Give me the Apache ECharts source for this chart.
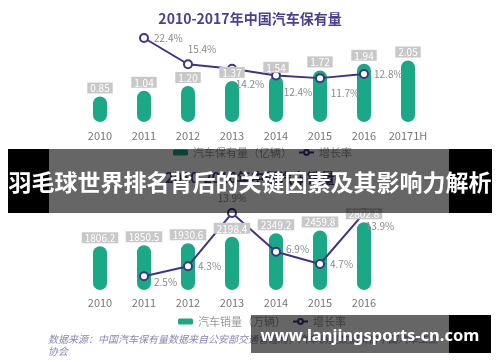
<!DOCTYPE html>
<html>
<head>
<meta charset="utf-8">
<style>
  html, body { margin: 0; padding: 0; background: #fff; }
  #main { width: 500px; height: 362px; }
</style>
<script src="https://cdn.jsdelivr.net/npm/echarts@6/dist/echarts.min.js"></script>
</head>
<body>
<div id="main"></div>
<script>
// 汽车保有量（亿辆）
var stockYears = ['2010', '2011', '2012', '2013', '2014', '2015', '2016', '20171H'];
var stockValues = [0.85, 1.04, 1.20, 1.37, 1.54, 1.72, 1.94, 2.05];
var stockGrowth = [null, 22.4, 15.4, 14.2, 12.4, 11.7, 12.8, null];

// 汽车销量（万辆）
var salesYears = ['2010', '2011', '2012', '2013', '2014', '2015', '2016'];
var salesValues = [1806.2, 1850.5, 1930.6, 2198.4, 2349.2, 2459.8, 2802.8];
var salesGrowth = [null, 2.5, 4.3, 13.9, 6.9, 4.7, 13.9];

var GREEN = '#1aa886';
var PURPLE = '#3e3486';
var FONT = '"Noto Sans CJK SC", "Noto Sans", sans-serif';

// where each growth label sits relative to its point
var stockLabelPos = [null,
  {position: 'right'},
  {position: 'top', offset: [14, 0]},
  {position: 'bottom', offset: [18, 0]},
  {position: 'bottom', offset: [22, 2]},
  {position: 'bottom', offset: [25, 0]},
  {position: 'right'},
  null];
var salesLabelPos = [null,
  {position: 'right', offset: [0, 6]},
  {position: 'right'},
  {position: 'top'},
  {position: 'right', offset: [0, -3]},
  {position: 'right'},
  {position: 'bottom', offset: [16, -2]}];

function growthData(values, pos) {
  return values.map(function (v, i) {
    if (v == null) return null;
    return {value: v, label: pos[i] || {}};
  });
}

var barLabel = function (digits) {
  return {
    show: true,
    position: 'top',
    distance: 3,
    backgroundColor: '#c8c8c8',
    color: '#fff',
    fontSize: 10,
    fontFamily: FONT,
    padding: [1, 3, 0, 3],
    formatter: function (p) { return p.value.toFixed(digits); }
  };
};

var lineLabel = {
  show: true,
  color: '#8a8a8a',
  fontSize: 10,
  fontFamily: FONT,
  formatter: function (p) { return p.value.toFixed(1) + '%'; }
};

// green pill bars, plus a see-through twin that carries the value boxes above the line
function barPair(name, xi, yi, values, digits) {
  return [{
    name: name,
    type: 'bar',
    xAxisIndex: xi, yAxisIndex: yi,
    barWidth: 14,
    barGap: '-100%',
    z: 1,
    itemStyle: {color: GREEN, borderRadius: 7},
    data: values
  }, {
    name: name + '-label',
    type: 'bar',
    xAxisIndex: xi, yAxisIndex: yi,
    barWidth: 14,
    barGap: '-100%',
    z: 4,
    silent: true,
    itemStyle: {color: 'transparent'},
    label: barLabel(digits),
    data: values
  }];
}

function growthLine(xi, yi, values, pos) {
  return {
    name: '增长率',
    type: 'line',
    xAxisIndex: xi, yAxisIndex: yi,
    z: 3,
    symbol: 'emptyCircle',
    symbolSize: 8,
    lineStyle: {color: PURPLE, width: 2},
    itemStyle: {color: PURPLE, borderWidth: 2},
    label: lineLabel,
    data: growthData(values, pos)
  };
}

var myChart = echarts.init(document.getElementById('main'));

var legendStyle = {
  itemWidth: 15,
  itemHeight: 6,
  itemGap: 6,
  textStyle: {color: '#999', fontSize: 11, fontFamily: FONT}
};

myChart.setOption({
  animation: false,
  textStyle: {fontFamily: FONT},
  title: [{
    text: '2010-2017年中国汽车保有量',
    left: 'center',
    top: 7,
    textStyle: {color: '#4b3f91', fontSize: 14, fontWeight: 'bold', fontFamily: FONT}
  }, {
    text: '2010-2016年中国汽车销量',
    left: 'center',
    top: 166,
    textStyle: {color: '#4b3f91', fontSize: 14, fontWeight: 'bold', fontFamily: FONT}
  }],
  legend: [
    Object.assign({data: ['汽车保有量（亿辆）', '增长率'], left: 168, top: 142}, legendStyle),
    Object.assign({data: ['汽车销量（万辆）', '增长率'], left: 173, top: 311}, legendStyle)
  ],
  grid: [
    {left: 78, top: 32, width: 352, height: 90},
    {left: 78, top: 207, width: 308, height: 83}
  ],
  xAxis: [{
    type: 'category', gridIndex: 0, data: stockYears,
    axisLine: {show: false}, axisTick: {show: false},
    axisLabel: {color: '#777', fontSize: 11, margin: 8, interval: 0}
  }, {
    type: 'category', gridIndex: 1, data: salesYears,
    axisLine: {show: false}, axisTick: {show: false},
    axisLabel: {color: '#777', fontSize: 11, margin: 7, interval: 0}
  }],
  yAxis: [
    {type: 'value', gridIndex: 0, min: 0, max: 3, show: false},
    {type: 'value', gridIndex: 0, min: 0, max: 24, show: false},
    {type: 'value', gridIndex: 1, min: 0, max: 3430, show: false},
    {type: 'value', gridIndex: 1, min: 0, max: 15, show: false}
  ],
  series: [].concat(
    barPair('汽车保有量（亿辆）', 0, 0, stockValues, 2),
    [growthLine(0, 1, stockGrowth, stockLabelPos)],
    barPair('汽车销量（万辆）', 1, 2, salesValues, 1),
    [growthLine(1, 3, salesGrowth, salesLabelPos)]
  ),
  graphic: [
    // source note
    {type: 'text', left: 48, top: 333, z: 5, style: {
      text: '数据来源：中国汽车保有量数据来自公安部交通管理局，汽车销量数据来自中国汽车工业\n协会',
      fill: '#8c89b5', font: 'italic 10px "Noto Sans CJK SC"', lineHeight: 12}},
    // headline banner
    {type: 'rect', z: 50, shape: {x: 8, y: 149, width: 41, height: 64}, style: {fill: '#000'}},
    {type: 'rect', z: 50, shape: {x: 449, y: 149, width: 43, height: 64}, style: {fill: '#000'}},
    {type: 'rect', z: 50, shape: {x: 49, y: 149, width: 400, height: 64}, style: {fill: 'rgba(0,0,0,0.6)'}},
    {type: 'text', z: 51, x: 250, y: 182, style: {
      text: '羽毛球世界排名背后的关键因素及其影响力解析',
      fill: '#fff', font: 'bold 23px "Noto Sans CJK SC"', align: 'center', verticalAlign: 'middle'}},
    // site watermark
    {type: 'rect', z: 50, shape: {x: 251, y: 315, width: 198, height: 38}, style: {fill: 'rgba(0,0,0,0.6)'}},
    {type: 'rect', z: 50, shape: {x: 449, y: 315, width: 42, height: 38}, style: {fill: '#000'}},
    {type: 'text', z: 51, x: 370, y: 336, style: {
      text: 'www.lanjingsports-cn.com',
      fill: '#fff', font: 'bold 16.5px "Noto Sans"', align: 'center', verticalAlign: 'middle'}}
  ]
});
</script>
</body>
</html>
